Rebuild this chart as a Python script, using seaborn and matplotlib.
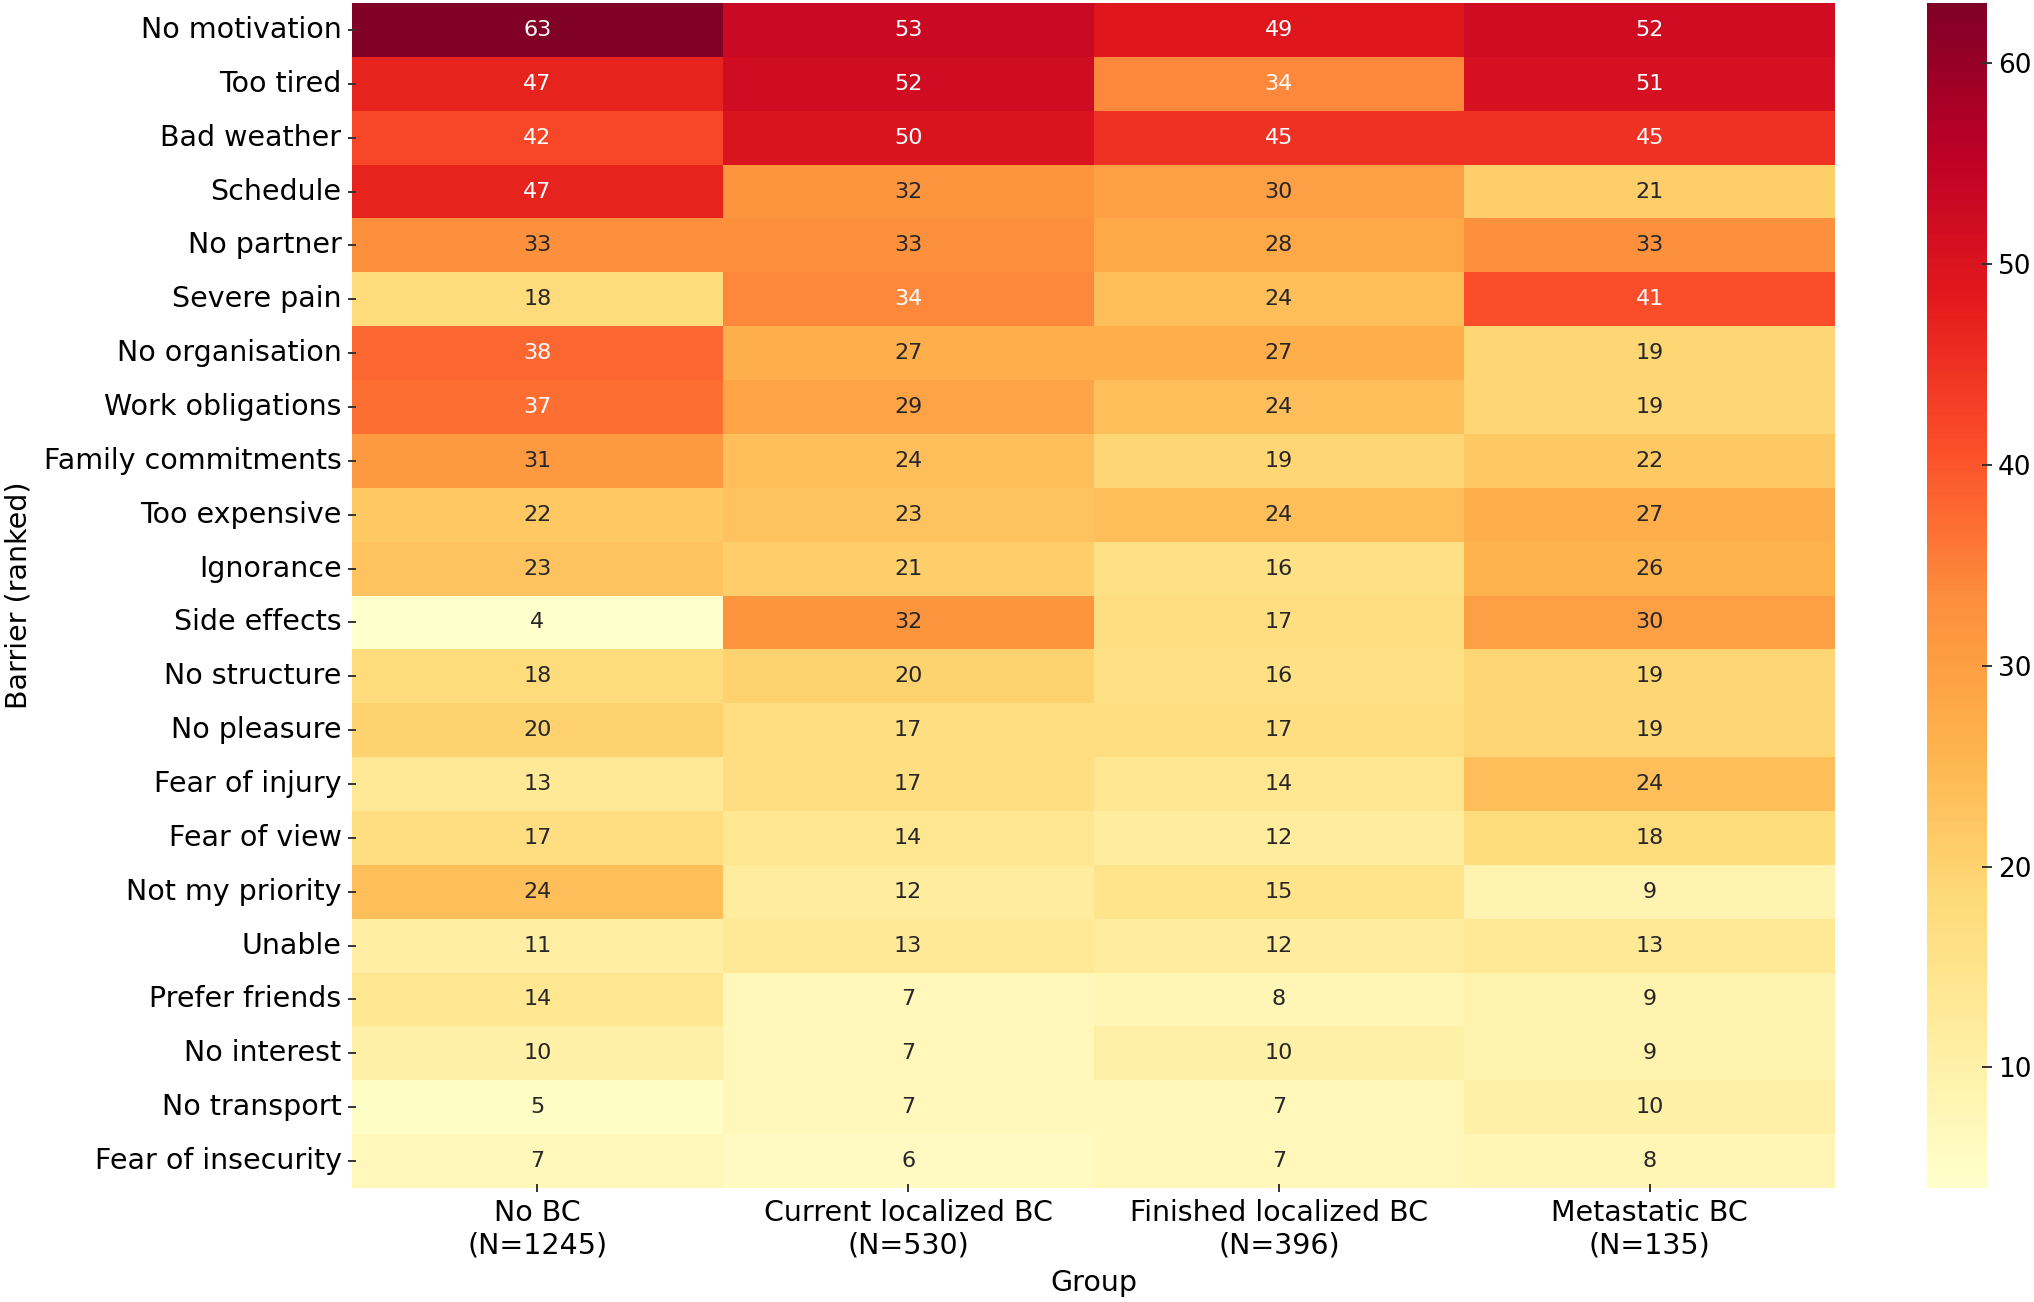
import numpy as np
import pandas as pd
import matplotlib
matplotlib.use("Agg")
import matplotlib.pyplot as plt
import seaborn as sns

barriers = ["No motivation", "Too tired", "Bad weather", "Schedule", "No partner",
            "Severe pain", "No organisation", "Work obligations", "Family commitments",
            "Too expensive", "Ignorance", "Side effects", "No structure", "No pleasure",
            "Fear of injury", "Fear of view", "Not my priority", "Unable", "Prefer friends",
            "No interest", "No transport", "Fear of insecurity"]
groups = ["No BC\n(N=1245)", "Current localized BC\n(N=530)",
          "Finished localized BC\n(N=396)", "Metastatic BC\n(N=135)"]

no_bc = [63, 47, 42, 47, 33, 18, 38, 37, 31, 22, 23, 4, 18, 20, 13, 17, 24, 11, 14, 10, 5, 7]
current_bc = [53, 52, 50, 32, 33, 34, 27, 29, 24, 23, 21, 32, 20, 17, 17, 14, 12, 13, 7, 7, 7, 6]
finished_bc = [49, 34, 45, 30, 28, 24, 27, 24, 19, 24, 16, 17, 16, 17, 14, 12, 15, 12, 8, 10, 7, 7]
metastatic_bc = [52, 51, 45, 21, 33, 41, 19, 19, 22, 27, 26, 30, 19, 19, 24, 18, 9, 13, 9, 9, 10, 8]
cbar_ticks = [10, 20, 30, 40, 50, 60]

df = pd.DataFrame({groups[0]: no_bc, groups[1]: current_bc,
                   groups[2]: finished_bc, groups[3]: metastatic_bc}, index=barriers)

plt.rcParams['font.family'] = ['DejaVu Sans']

W, H = 2034, 1302
fig = plt.figure(figsize=(W / 100, H / 100), dpi=100)
ax = fig.add_axes([352 / W, 1 - 1188 / H, (1835 - 352) / W, (1188 - 3) / H])
cax = fig.add_axes([1927 / W, 1 - 1188 / H, 60 / W, (1188 - 3) / H])

sns.heatmap(df, ax=ax, cbar_ax=cax, cmap="YlOrRd", annot=True, fmt="d",
            annot_kws={"fontsize": 16})

ax.set_xlabel("Group", fontsize=20.5, labelpad=7)
ax.set_ylabel("Barrier (ranked)", fontsize=20.5, labelpad=8)
ax.set_yticklabels(barriers, rotation=0)
ax.set_xticklabels(groups, rotation=0)
ax.xaxis.set_ticks_position("bottom")
ax.yaxis.set_ticks_position("left")
ax.tick_params(axis="both", which="major", labelsize=20.5, length=6, width=1.4,
               direction="inout", color="#333333")
ax.tick_params(axis="y", pad=4.5)
ax.tick_params(axis="x", pad=5)
ax.xaxis.set_zorder(5)
ax.yaxis.set_zorder(5)
cax.yaxis.set_ticks_position("right")
cax.set_yticks(cbar_ticks)
cax.tick_params(labelsize=19, length=7, width=1.4, direction="inout",
                pad=4.5, color="#333333")
cax.yaxis.set_zorder(5)

fig.savefig("out.png", dpi=100)
